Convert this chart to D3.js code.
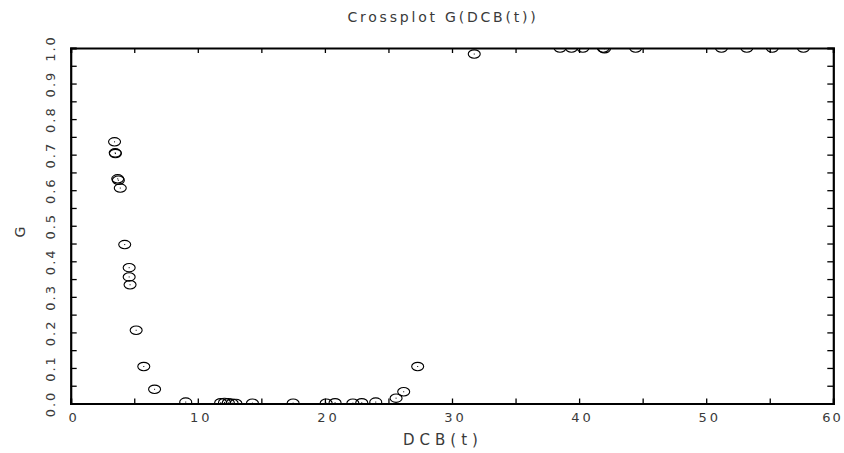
<!DOCTYPE html>
<html lang="en">
<head>
    <meta charset="UTF-8">
    <title>Crossplot G(DCB(t))</title>
    <style>
        body { margin: 0; background: #fff; }
        text { font-family: "DejaVu Sans", sans-serif; fill: #3a3a3a; }
    </style>
</head>
<body>
    <svg id="chart" width="844" height="453"></svg>

    <script src="https://d3js.org/d3.v7.min.js"></script>
    <script>
        const dcb = [3.45, 3.5, 3.52, 3.7, 3.75, 3.9, 4.25, 4.6, 4.6, 4.67, 5.15, 5.75, 6.6, 9.05,
            11.8, 12.1, 12.4, 12.7, 13.0, 14.3, 17.5, 20.1, 20.8, 22.2, 22.9, 24.0, 25.6, 26.2, 27.3,
            31.75, 38.5, 39.4, 40.3, 41.9, 42.0, 44.45, 51.2, 53.2, 55.2, 57.65];
        const g = [0.736, 0.705, 0.703, 0.632, 0.628, 0.606, 0.447, 0.382, 0.356, 0.334, 0.206, 0.104, 0.040, 0.004,
            0.002, 0.003, 0.002, 0.001, 0.0, 0.001, 0.001, 0.001, 0.002, 0.001, 0.002, 0.004, 0.015, 0.033, 0.104,
            0.983, 1.0, 1.0, 1.0, 1.0, 0.998, 1.0, 1.0, 1.0, 1.0, 1.0];
        const xTicks = d3.range(0, 61, 5);
        const yTicks = d3.range(0, 1.001, 0.05);

        const svg = d3.select("#chart");
        const mLeft = 70.7, mRight = 833.3, mTop = 48, mBottom = 403.5;

        const x = d3.scaleLinear().domain([0, 60]).range([mLeft, mRight]);
        const y = d3.scaleLinear().domain([0, 1]).range([mBottom, mTop]);

        const isMajorX = (d) => Math.round(d) % 10 === 0;
        const isMajorY = (d) => Math.round(d * 100) % 10 === 0;

        // axes, ticks inward
        const xb = svg.append("g")
            .attr("transform", `translate(0,${mBottom})`)
            .call(d3.axisBottom(x).tickValues(xTicks).tickSize(-5).tickPadding(9)
                .tickFormat((d) => isMajorX(d) ? d : ""));
        xb.selectAll("text").attr("font-size", 13).attr("letter-spacing", 3).attr("dx", 3);
        // last label would run off the page, keep it inside
        xb.selectAll("text").filter((d) => d === 60)
            .attr("text-anchor", "end").attr("letter-spacing", 2).attr("dx", 9);

        svg.append("g")
            .attr("transform", `translate(0,${mTop})`)
            .call(d3.axisTop(x).tickValues(xTicks).tickSize(-5).tickFormat(""));

        const yl = svg.append("g")
            .attr("transform", `translate(${mLeft},0)`)
            .call(d3.axisLeft(y).tickValues(yTicks).tickSize(-6)
                .tickFormat((d) => isMajorY(d) ? d3.format(".1f")(d) : ""));
        yl.selectAll("text")
            .attr("x", null).attr("dy", null)
            .attr("font-size", 13).attr("letter-spacing", 2)
            .attr("text-anchor", "middle")
            .attr("transform", "translate(-16,0) rotate(-90)");

        svg.append("g")
            .attr("transform", `translate(${mRight},0)`)
            .call(d3.axisRight(y).tickValues(yTicks).tickSize(-6).tickFormat(""));

        svg.selectAll(".domain").attr("stroke", "#000").attr("stroke-width", 2.2);
        svg.selectAll(".tick line").attr("stroke", "#000").attr("stroke-width", 1.3);

        // points, clipped to the frame
        svg.append("clipPath").attr("id", "clip")
            .append("rect").attr("x", mLeft).attr("y", mTop)
            .attr("width", mRight - mLeft).attr("height", mBottom - mTop);

        const pts = svg.append("g").attr("clip-path", "url(#clip)")
            .selectAll("g").data(dcb).join("g")
            .attr("transform", (d, i) => `translate(${x(d)},${y(g[i])})`);
        pts.append("ellipse").attr("rx", 6).attr("ry", 4.2)
            .attr("fill", "none").attr("stroke", "#000").attr("stroke-width", 1.1);
        pts.append("rect").attr("x", -0.5).attr("y", -0.5).attr("width", 1).attr("height", 1).attr("fill", "#000");

        // labels
        svg.append("text").attr("x", 443).attr("y", 22).attr("text-anchor", "middle")
            .attr("font-size", 14).attr("letter-spacing", 2.8).text("Crossplot G(DCB(t))");
        svg.append("text").attr("x", 443).attr("y", 445).attr("text-anchor", "middle")
            .attr("font-size", 15).attr("letter-spacing", 5).text("DCB(t)");
        svg.append("text").attr("transform", "translate(25,232) rotate(-90)").attr("text-anchor", "middle")
            .attr("font-size", 14).text("G");
    </script>
</body>
</html>
